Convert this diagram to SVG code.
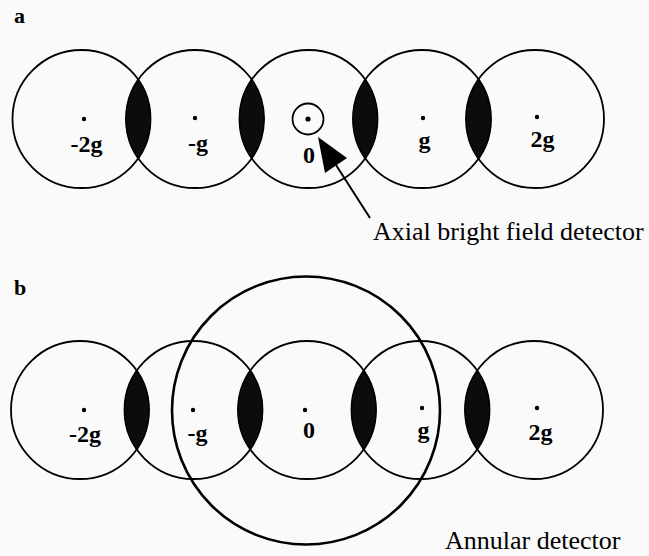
<svg xmlns="http://www.w3.org/2000/svg" width="649" height="556" viewBox="0 0 649 556">
<style>
.c{fill:none;stroke:#000;stroke-width:1.8}
.big{fill:none;stroke:#000;stroke-width:2.6}
.lens{fill:#0c0c0c;stroke:#000;stroke-width:1}
.dot{fill:#000}
.lbl{font-family:"Liberation Serif","Times New Roman",serif;font-weight:bold;font-size:24px;fill:#000;text-anchor:middle}
.pl{font-family:"Liberation Serif","Times New Roman",serif;font-weight:bold;font-size:22px;fill:#000}
.cap{font-family:"Liberation Serif","Times New Roman",serif;font-size:26px;fill:#000}
</style>
<defs>
<path id="lensA" d="M0,-39.3 A69,69 0 0 1 0,39.3 A69,69 0 0 1 0,-39.3 Z"/>
</defs>
<rect width="649" height="556" fill="#fafafa"/>

<text class="pl" x="14" y="23">a</text>
<text class="pl" x="14" y="295">b</text>

<!-- Panel a -->
<g id="a-m2g"><circle class="c" cx="81.5" cy="119" r="69"/><circle class="dot" cx="84" cy="119" r="2.2"/><text class="lbl" x="86.5" y="152">-2g</text></g>
<g id="a-mg"><circle class="c" cx="195" cy="119" r="69"/><circle class="dot" cx="195" cy="118" r="2.2"/><text class="lbl" x="198" y="151">-g</text></g>
<g id="a-0"><circle class="c" cx="308.5" cy="119" r="69"/><circle class="dot" cx="308" cy="119" r="2.6"/><text class="lbl" x="309" y="163">0</text></g>
<g id="a-g"><circle class="c" cx="422" cy="119" r="69"/><circle class="dot" cx="423" cy="118" r="2.2"/><text class="lbl" x="424.5" y="148">g</text></g>
<g id="a-2g"><circle class="c" cx="535" cy="119" r="69"/><circle class="dot" cx="537" cy="117" r="2.2"/><text class="lbl" x="542.5" y="147">2g</text></g>
<g id="a-lenses">
<use href="#lensA" class="lens" x="138.25" y="119"/>
<use href="#lensA" class="lens" x="251.75" y="119"/>
<use href="#lensA" class="lens" x="365.25" y="119"/>
<use href="#lensA" class="lens" x="478.5" y="119"/>
</g>
<g id="axial-detector"><circle class="c" cx="308" cy="119" r="15.5" stroke-width="2.2"/><text class="cap" x="373" y="240">Axial bright field detector</text></g>

<!-- Panel b -->
<g id="b-m2g"><circle class="c" cx="80" cy="410" r="69"/><circle class="dot" cx="84" cy="410" r="2.2"/><text class="lbl" x="85" y="442">-2g</text></g>
<g id="b-mg"><circle class="c" cx="193.5" cy="410" r="69"/><circle class="dot" cx="193" cy="410" r="2.2"/><text class="lbl" x="197.5" y="441">-g</text></g>
<g id="b-0"><circle class="c" cx="307" cy="410" r="69"/><circle class="dot" cx="305" cy="410" r="2.2"/><text class="lbl" x="309" y="438">0</text></g>
<g id="b-g"><circle class="c" cx="420.5" cy="410" r="69"/><circle class="dot" cx="422" cy="408" r="2.2"/><text class="lbl" x="423.5" y="438">g</text></g>
<g id="b-2g"><circle class="c" cx="534" cy="410" r="69"/><circle class="dot" cx="537" cy="408" r="2.2"/><text class="lbl" x="540.5" y="440">2g</text></g>
<g id="b-lenses">
<use href="#lensA" class="lens" x="136.75" y="410"/>
<use href="#lensA" class="lens" x="250.25" y="410"/>
<use href="#lensA" class="lens" x="363.75" y="410"/>
<use href="#lensA" class="lens" x="477.25" y="410"/>
</g>
<g id="annular-detector"><circle class="big" cx="306" cy="410.5" r="134"/><text class="cap" x="445" y="549">Annular detector</text></g>

<g id="connectors">
<line x1="370" y1="218" x2="336" y2="165" stroke="#000" stroke-width="2"/>
<polygon points="318,137 347,158 325,173" fill="#000"/>
</g>
</svg>
